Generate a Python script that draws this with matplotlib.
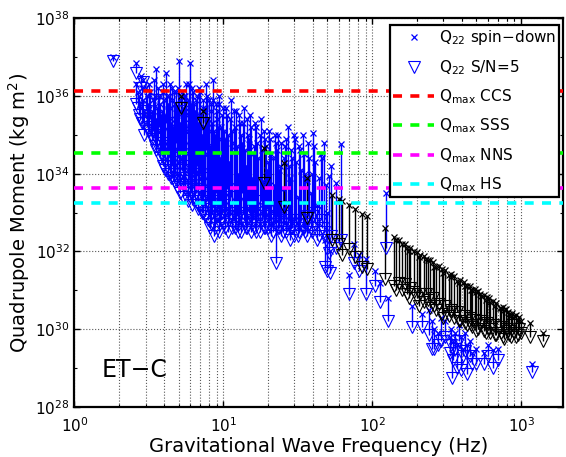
"""Momento cuadrupolar vs frecuencia GW (ET-C): limite spin-down y S/N=5."""
import numpy as np
import matplotlib
matplotlib.use("Agg")
import matplotlib.pyplot as plt
from matplotlib.lines import Line2D

# --- pulsares "azules": f (Hz), log10 Q spin-down, log10 Q S/N=5 ---
blue_f = [1.8, 2.57, 2.6, 2.7, 2.8, 2.87, 2.9, 3.0, 3.1, 3.2, 3.3, 3.4, 3.5, 3.6, 3.7, 3.8, 3.9, 4.0,
          4.1, 4.2, 4.3, 4.4, 4.5, 4.6, 4.7, 4.8, 4.9, 5.0, 5.1, 5.2, 5.4, 5.5, 5.6, 5.8, 5.9, 6.0, 6.1, 6.2,
          6.3, 6.5, 6.6, 6.8, 6.9, 7.0, 7.2, 7.3, 7.5, 7.6, 7.8, 8.0, 8.1, 8.3, 8.5, 8.6, 8.7, 8.9, 9.1, 9.3,
          9.5, 9.7, 10.0, 10.3, 10.6, 10.9, 11.2, 11.5, 11.9, 12.2, 12.6, 13.0, 13.4, 13.8, 14.2, 14.7,
          15.1, 15.6, 16.1, 16.6, 17.2, 17.8, 18.4, 19.0, 19.6, 20.3, 21.0, 21.8, 22.5, 23.3, 24.1, 25.0,
          26.0, 27.0, 28.0, 29.1, 30.2, 31.5, 32.8, 34.1, 35.5, 37.0, 38.5, 40.0, 40.5, 42.5, 45.0, 47.5,
          48.0, 50.0, 51.0, 52.0, 53.0, 57.0, 61.6, 70.0, 75.0, 82.0, 90.0, 104.0, 112.0, 123.0, 127.0,
          184.0, 217.0, 240.0, 253.0, 260.0, 275.0, 290.0, 310.0, 330.0, 340.0, 345.0, 350.0, 360.0,
          370.0, 380.0, 395.0, 405.0, 420.0, 430.0, 450.0, 470.0, 495.0, 560.0, 600.0, 650.0, 700.0, 1180.0,
          2.65, 2.75, 2.85, 2.95, 3.05, 3.15, 3.25, 3.35, 3.45, 3.55, 3.65, 3.75, 3.85, 3.95,
          4.05, 4.15, 4.25, 4.35, 4.45, 4.55, 4.65, 4.75, 4.85, 4.95, 5.05, 5.15, 5.25, 5.35,
          5.45, 5.55, 5.65, 5.75, 5.85, 5.95, 6.05, 6.15, 6.25, 6.4, 6.55, 6.7, 6.85, 7.1,
          7.25, 7.4, 7.55, 7.7, 7.9, 8.05, 8.2, 8.4, 8.55, 8.8, 9.0, 9.2, 9.4, 9.6, 9.85,
          10.15, 10.45, 10.75, 11.05, 11.35, 11.7, 12.0, 12.4, 12.8, 13.2, 13.6, 14.0, 14.45,
          14.9, 15.35, 15.85, 16.35, 16.9, 17.5, 18.1, 18.7, 19.3, 19.95, 20.65, 21.4, 22.15,
          22.9, 23.7, 24.5, 25.5, 26.5, 27.5, 28.5, 29.6, 30.8, 32.1, 33.4, 34.8, 36.2, 37.7,
          39.2, 41.5, 43.8, 46.2, 49.0]
blue_sd = [37.0, 36.85, 36.3, 36.0, 36.5, 36.4, 35.9, 36.2, 35.8, 36.1, 35.6, 36.4, 36.7, 35.7, 36.0, 35.5, 36.3, 35.9,
           36.6, 35.4, 36.0, 35.7, 36.2, 35.2, 35.8, 36.1, 35.5, 36.9, 35.3, 35.9, 36.0, 35.6, 36.3, 35.1, 35.7, 36.85, 35.4, 36.2,
           35.8, 35.2, 36.0, 34.8, 35.5, 36.1, 35.0, 35.7, 34.5, 36.3, 35.3, 35.9, 34.7, 35.6, 36.4, 35.1, 34.6, 35.8, 35.4, 36.0,
           34.4, 35.2, 35.7, 34.9, 35.5, 34.3, 35.9, 35.1, 34.6, 35.6, 34.0, 35.3, 34.8, 35.7, 34.2, 35.0,
           35.5, 33.9, 34.7, 35.2, 34.4, 35.4, 33.8, 34.9, 34.1, 35.1, 34.5, 33.7, 34.8, 35.0, 34.2, 33.6,
           34.7, 35.2, 33.9, 34.4, 34.9, 33.4, 34.6, 35.0, 34.0, 34.8, 33.5, 35.05, 34.7, 33.2, 34.5, 34.8,
           32.3, 33.0, 33.95, 32.0, 34.2, 33.77, 34.77, 31.4, 32.2, 31.9, 31.8, 31.5, 31.2, 33.5, 30.8,
           30.6, 30.4, 30.5, 30.2, 30.0, 29.9, 30.3, 30.2, 29.8, 30.0, 29.4, 29.7, 29.9,
           29.6, 30.1, 29.8, 29.5, 29.9, 29.6, 29.7, 29.4, 29.5, 29.4, 29.6, 29.46, 29.5, 29.1,
           36.1, 35.8, 36.2, 35.6, 36.0, 36.3, 35.5, 35.9, 36.0, 35.4, 36.2, 35.8, 35.6, 36.1,
           35.5, 36.0, 35.8, 36.3, 35.3, 35.9, 36.1, 35.4, 35.7, 36.2, 35.6, 35.0, 36.1, 35.7,
           35.2, 36.0, 35.5, 35.9, 36.3, 35.3, 35.8, 35.1, 36.1, 35.6, 35.9, 35.3, 36.2, 35.5,
           35.9, 35.2, 35.7, 36.0, 35.4, 35.1, 35.8, 35.3, 35.9, 35.0, 35.6, 35.2, 35.8, 34.9, 35.5,
           35.1, 35.7, 35.0, 35.4, 34.8, 35.6, 35.2, 34.7, 35.5, 35.0, 35.3, 34.6, 35.4,
           34.9, 35.2, 34.5, 35.3, 34.8, 35.0, 34.6, 35.1, 34.7, 34.3, 34.9, 34.4, 35.0,
           34.6, 34.1, 34.8, 34.4, 34.9, 34.2, 34.6, 35.0, 34.3, 34.7, 34.1, 34.5, 33.8, 34.4,
           34.0, 34.3, 33.9, 34.4, 33.7]
blue_sn = [36.9, 36.6, 35.8, 35.5, 36.2, 36.35, 35.3, 35.6, 35.1, 35.4, 34.9, 35.0, 35.9, 34.7, 35.2, 34.5, 34.8, 34.4,
           35.3, 34.2, 34.6, 34.0, 35.0, 33.9, 34.3, 34.8, 33.8, 35.6, 34.0, 34.5, 33.7, 34.1, 34.9, 33.6, 33.9, 35.2, 33.5, 34.4,
           33.4, 33.8, 34.2, 33.2, 33.6, 34.0, 33.0, 33.9, 32.9, 34.6, 33.3, 33.7, 32.6, 33.1, 34.3, 32.8, 32.4, 33.5, 32.9, 33.8,
           32.7, 33.0, 33.2, 32.6, 33.6, 32.8, 33.4, 32.9, 33.1, 32.7, 32.5, 33.0, 33.5, 32.8, 32.6, 33.2,
           32.9, 32.7, 33.0, 32.5, 32.8, 33.3, 32.9, 32.6, 33.1, 32.7, 32.4, 32.9, 31.7, 32.6, 32.8, 32.5,
           32.9, 32.7, 32.3, 32.6, 32.8, 32.4, 32.7, 32.6, 32.5, 32.9, 32.6, 32.9, 33.0, 32.3, 32.8, 32.5,
           31.6, 31.5, 31.95, 31.45, 32.4, 32.1, 32.3, 30.9, 31.7, 31.5, 30.9, 31.1, 30.7, 32.1, 30.2,
           30.05, 30.05, 29.85, 29.5, 29.5, 29.6, 29.7, 29.8, 29.4, 29.6, 28.74, 29.2, 29.5,
           29.0, 29.7, 28.95, 29.3, 29.45, 28.85, 29.3, 29.1, 29.1, 29.1, 29.3, 29.0, 29.2, 28.9,
           35.7, 35.4, 35.3, 35.0, 35.2, 35.1, 35.0, 35.1, 34.7, 34.6, 34.9, 34.4, 34.6, 34.2,
           34.1, 34.5, 34.0, 34.7, 33.9, 34.2, 33.8, 34.0, 33.65, 34.4, 33.9, 33.5, 34.1, 33.4,
           33.8, 33.6, 34.2, 33.3, 33.9, 33.4, 33.7, 33.2, 34.0, 33.3, 33.5, 33.1, 33.8, 33.2,
           33.0, 33.4, 32.9, 33.5, 32.8, 33.2, 32.7, 33.0, 33.3, 32.6, 32.9, 33.1, 32.5, 32.8, 33.0,
           32.7, 33.1, 32.5, 32.9, 32.6, 33.0, 32.6, 32.9, 32.7, 32.5, 33.0, 32.7, 32.6,
           33.0, 32.5, 32.8, 32.6, 32.9, 32.5, 32.8, 32.6, 32.9, 32.6, 32.8, 32.5, 32.7,
           32.9, 32.6, 32.4, 32.7, 32.5, 32.8, 32.6, 32.4, 32.7, 32.5, 32.8, 32.6, 32.4, 32.7,
           32.5, 32.7, 32.4, 32.6, 32.3]

# --- pulsares "negros" ---
black_f = [5.2, 7.3, 18.7, 25.7, 36.6, 54.0, 60.0, 63.0, 70.0, 77.0, 85.0, 92.0, 122.0,
           140.0, 150.0, 158.0, 165.0, 172.0, 180.0, 190.0, 200.0, 210.0, 222.0, 235.0, 245.0,
           255.0, 268.0, 280.0, 295.0, 310.0, 325.0, 340.0, 355.0, 370.0, 390.0, 410.0, 430.0,
           450.0, 470.0, 490.0, 515.0, 540.0, 565.0, 590.0, 620.0, 650.0, 680.0, 715.0, 750.0,
           790.0, 830.0, 870.0, 920.0, 970.0, 1150.0, 1400.0,
           145.0, 175.0, 205.0, 228.0, 260.0, 300.0, 335.0, 380.0, 420.0, 460.0, 500.0,
           530.0, 580.0, 610.0, 665.0, 730.0, 770.0, 810.0, 850.0, 900.0, 950.0, 1000.0]
black_sd = [36.0, 35.6, 34.67, 34.28, 33.9, 33.46, 33.35, 33.3, 33.2, 33.1, 32.95, 32.9, 32.6,
            32.36, 32.29, 32.2, 32.19, 32.1, 32.09, 32.0, 31.98, 31.9, 31.87, 31.78, 31.77,
            31.72, 31.6, 31.63, 31.55, 31.52, 31.4, 31.42, 31.37, 31.25, 31.27, 31.22, 31.1,
            31.12, 31.0, 31.03, 30.98, 30.85, 30.88, 30.83, 30.7, 30.73, 30.68, 30.55, 30.58,
            30.52, 30.4, 30.42, 30.36, 30.31, 30.15, 29.9,
            32.3, 32.0, 31.85, 31.8, 31.6, 31.45, 31.35, 31.2, 31.1, 31.0, 30.95,
            30.9, 30.75, 30.8, 30.6, 30.55, 30.5, 30.45, 30.35, 30.35, 30.25, 30.2]
black_sn = [35.7, 35.3, 33.77, 33.13, 32.87, 32.3, 32.2, 31.9, 32.05, 31.85, 31.6, 31.55, 31.3,
            31.1, 31.2, 31.0, 31.15, 30.9, 31.05, 30.95, 30.8, 30.9, 30.7, 30.75, 30.55,
            30.8, 30.5, 30.65, 30.4, 30.6, 30.35, 30.5, 30.3, 30.45, 30.2, 30.35, 30.1,
            30.3, 30.05, 30.25, 30.0, 30.2, 29.95, 30.15, 29.9, 30.1, 29.85, 30.05, 29.8,
            30.0, 29.85, 30.1, 29.8, 30.0, 29.8, 29.7,
            31.0, 30.8, 30.6, 30.9, 30.6, 30.3, 30.45, 30.2, 30.15, 30.1, 29.95,
            30.1, 29.9, 30.0, 29.85, 29.9, 29.75, 29.95, 29.8, 29.9, 29.85, 29.9]

# --- Q maximo segun el tipo de estrella ---
qmax_labels = ["CCS", "SSS", "NNS", "HS"]
qmax_vals = [1.35e36, 3.5e34, 4.4e33, 1.8e33]
qmax_colors = ["#ff0000", "#00ff00", "#ff00ff", "#00ffff"]

fig = plt.figure(figsize=(5.66, 4.57), dpi=100)
ax = fig.add_axes([0.1316, 0.1094, 0.863, 0.851])

for fs, sd, sn, col in [(blue_f, blue_sd, blue_sn, "#0000ff"),
                        (black_f, black_sd, black_sn, "black")]:
    f = np.array(fs)
    q_sd = 10.0 ** np.array(sd)
    q_sn = 10.0 ** np.array(sn)
    ax.vlines(f, q_sn, q_sd, colors=col, lw=1.0, zorder=3)
    ax.plot(f, q_sd, "x", color=col, ms=4.5, mew=0.9, zorder=4)
    ax.plot(f, q_sn, "v", color=col, mfc="none", ms=8.5, mew=0.8, zorder=4)

for q, c in zip(qmax_vals, qmax_colors):
    ax.axhline(q, color=c, lw=2.6, ls=(0, (2.5, 2.3)), zorder=5)

ax.set_xscale("log")
ax.set_yscale("log")
ax.set_xlim(1, 10 ** 3.28)
ax.set_ylim(1e28, 1e38)
ax.set_yticks([1e28, 1e30, 1e32, 1e34, 1e36, 1e38])
ax.set_yticks([1e29, 1e31, 1e33, 1e35, 1e37], minor=True)
ax.set_xticks([1, 10, 100, 1000])
ax.tick_params(which="both", direction="in", top=True, right=True, labelsize=11)
ax.tick_params(which="major", length=4, width=1)
ax.tick_params(which="minor", length=2, width=0.8)
ax.tick_params(axis="x", pad=7)
ax.tick_params(axis="y", which="minor", labelleft=False)
ax.xaxis.grid(True, which="both", ls=":", color="0.35", lw=0.8)
ax.yaxis.grid(True, which="major", ls=":", color="0.35", lw=0.8)
for s in ax.spines.values():
    s.set_linewidth(1.6)

ax.set_xlabel("Gravitational Wave Frequency (Hz)", fontsize=14, labelpad=1)
ax.set_ylabel(r"Quadrupole Moment (kg m$^2$)", fontsize=14, labelpad=2)
ax.text(0.055, 0.095, "ET\u2212C", transform=ax.transAxes, fontsize=17, va="center")

handles = [Line2D([], [], ls="none", marker="x", color="#0000ff", ms=4.5, mew=0.9),
           Line2D([], [], ls="none", marker="v", color="#0000ff", mfc="none", ms=8.5, mew=0.8)]
labels = ["Q$_{22}$ spin\u2212down", "Q$_{22}$ S/N=5"]
for lab, c in zip(qmax_labels, qmax_colors):
    handles.append(Line2D([], [], color=c, lw=2.6, ls=(0, (2.5, 2.3))))
    labels.append(r"Q$_{\mathregular{max}}$ " + lab)
leg = ax.legend(handles, labels, loc="upper right", bbox_to_anchor=(0.992, 0.982),
                fontsize=11, frameon=True, fancybox=False, framealpha=1,
                edgecolor="black", handlelength=2.7, handletextpad=0.3,
                labelspacing=0.7, borderpad=0.2, borderaxespad=0)
leg.get_frame().set_linewidth(1.6)
leg.set_zorder(10)

fig.savefig("out.png", dpi=100)
